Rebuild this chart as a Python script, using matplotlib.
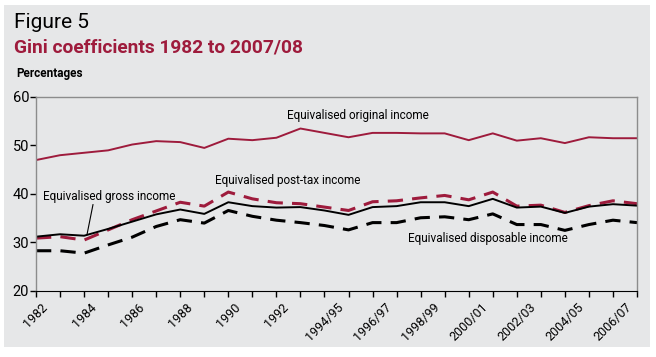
import matplotlib
matplotlib.use("Agg")
import matplotlib.pyplot as plt
from matplotlib.patches import Rectangle

years = ["1982", "1983", "1984", "1985", "1986", "1987", "1988", "1989", "1990",
         "1991", "1992", "1993", "1994/95", "1995/96", "1996/97", "1997/98",
         "1998/99", "1999/00", "2000/01", "2001/02", "2002/03", "2003/04",
         "2004/05", "2005/06", "2006/07", "2007/08"]

original = [47.0, 48.0, 48.5, 49.0, 50.2, 50.9, 50.7, 49.5, 51.4, 51.1, 51.6, 53.5, 52.6,
            51.7, 52.6, 52.6, 52.5, 52.5, 51.1, 52.5, 51.0, 51.5, 50.5, 51.7, 51.5, 51.5]
gross = [31.2, 31.7, 31.4, 32.8, 34.3, 35.8, 36.8, 35.9, 38.3, 37.5, 37.2, 37.3, 36.6,
         35.7, 37.3, 37.5, 38.3, 38.3, 37.5, 39.0, 37.2, 37.4, 36.1, 37.4, 37.9, 37.6]
posttax = [30.9, 31.2, 30.5, 32.6, 34.7, 36.5, 38.3, 37.5, 40.4, 39.0, 38.2, 38.0, 37.3,
           36.6, 38.4, 38.6, 39.2, 39.7, 38.8, 40.4, 37.5, 37.7, 36.2, 37.6, 38.6, 38.0]
disposable = [28.3, 28.3, 27.8, 29.5, 31.1, 33.3, 34.7, 34.0, 36.6, 35.4, 34.6, 34.1, 33.5,
              32.6, 34.1, 34.1, 35.1, 35.3, 34.7, 35.9, 33.7, 33.7, 32.5, 33.7, 34.6, 34.1]

red = "#9e1b3c"
panel = "#e6e7e8"
plt.rcParams["font.family"] = ["Roboto", "DejaVu Sans"]

fig = plt.figure(figsize=(6.56, 3.57), dpi=100)
fig.patch.set_facecolor("white")
fig.patches.append(Rectangle((4 / 656, 10 / 357), 646 / 656, 342 / 357,
                             transform=fig.transFigure, facecolor=panel,
                             edgecolor="none", zorder=-10))

ax = fig.add_axes([36 / 656, 1 - 291 / 357, 601 / 656, 194 / 357])
ax.set_facecolor(panel)
x = list(range(len(years)))

ax.plot(x, original, color=red, lw=1.4)
ax.plot(x, posttax, color=red, lw=2.2, dashes=(5, 3))
ax.plot(x, gross, color="black", lw=1.4)
ax.plot(x, disposable, color="black", lw=2.2, dashes=(5, 3))

ax.set_xlim(0, len(years) - 1)
ax.set_ylim(20, 60)
ax.set_yticks([20, 30, 40, 50, 60])
ax.set_xticks(x)
ax.set_xticklabels([y if i % 2 == 0 else "" for i, y in enumerate(years)],
                   rotation=45, ha="center", fontsize=9)
ax.tick_params(axis="x", length=4, width=1, color="black", pad=3)
ax.tick_params(axis="y", length=4, width=1, color="black", labelsize=10.5, pad=1)
for s in ["left", "top", "right"]:
    ax.spines[s].set_color("#8c8c8c")
    ax.spines[s].set_linewidth(1)
ax.spines["bottom"].set_color("black")

fs = 8.5
ax.text(13.4, 56.2, "Equivalised original income", fontsize=fs, ha="center", va="center")
ax.text(10.45, 42.8, "Equivalised post-tax income", fontsize=fs, ha="center", va="center")
ax.text(0.3, 39.5, "Equivalised gross income", fontsize=fs, ha="left", va="center")
ax.text(18.8, 30.8, "Equivalised disposable income", fontsize=fs, ha="center", va="center")
ax.plot([2.37, 2.12], [37.8, 31.6], color="black", lw=0.8)

fig.text(14 / 656, 1 - 22 / 357, "Figure 5", fontsize=15, va="center", ha="left")
fig.text(14 / 656, 1 - 47 / 357, "Gini coefficients 1982 to 2007/08", fontsize=13.8,
         fontweight="bold", color=red, va="center", ha="left")
fig.text(16 / 656, 1 - 73 / 357, "Percentages", fontsize=8.5, fontweight="bold",
         va="center", ha="left")

fig.savefig("out.png", dpi=100, facecolor="white")
